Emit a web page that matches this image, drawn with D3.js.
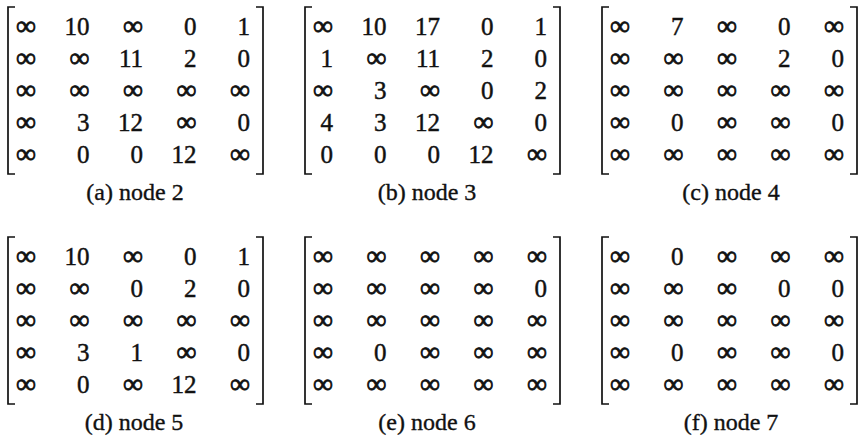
<!DOCTYPE html>
<html>
<head>
<meta charset="utf-8">
<script src="https://cdn.jsdelivr.net/npm/d3@7"></script>
<style>
  html, body { margin: 0; padding: 0; background: #fff; }
  svg { display: block; }
</style>
</head>
<body>
<svg id="chart" width="862" height="441"></svg>
<script>
const INF = Infinity;
const rowLabels = ["r1", "r2", "r3", "r4", "r5"];
const colLabels = ["c1", "c2", "c3", "c4", "c5"];
const panelLabels = ["(a) node 2", "(b) node 3", "(c) node 4", "(d) node 5", "(e) node 6", "(f) node 7"];

const node2 = [
  [INF, 10, INF, 0, 1],
  [INF, INF, 11, 2, 0],
  [INF, INF, INF, INF, INF],
  [INF, 3, 12, INF, 0],
  [INF, 0, 0, 12, INF]
];
const node3 = [
  [INF, 10, 17, 0, 1],
  [1, INF, 11, 2, 0],
  [INF, 3, INF, 0, 2],
  [4, 3, 12, INF, 0],
  [0, 0, 0, 12, INF]
];
const node4 = [
  [INF, 7, INF, 0, INF],
  [INF, INF, INF, 2, 0],
  [INF, INF, INF, INF, INF],
  [INF, 0, INF, INF, 0],
  [INF, INF, INF, INF, INF]
];
const node5 = [
  [INF, 10, INF, 0, 1],
  [INF, INF, 0, 2, 0],
  [INF, INF, INF, INF, INF],
  [INF, 3, 1, INF, 0],
  [INF, 0, INF, 12, INF]
];
const node6 = [
  [INF, INF, INF, INF, INF],
  [INF, INF, INF, INF, 0],
  [INF, INF, INF, INF, INF],
  [INF, 0, INF, INF, INF],
  [INF, INF, INF, INF, INF]
];
const node7 = [
  [INF, 0, INF, INF, INF],
  [INF, INF, INF, 0, 0],
  [INF, INF, INF, INF, INF],
  [INF, 0, INF, INF, 0],
  [INF, INF, INF, INF, INF]
];
const matrices = [node2, node3, node4, node5, node6, node7];

const svg = d3.select("#chart");
const font = "'Liberation Serif', 'Times New Roman', serif";

// panel grid
const panelX = d3.scalePoint().domain([0, 1, 2]).range([8, 602]);
const panelY = d3.scalePoint().domain([0, 1]).range([7, 237]);
const colX = d3.scalePoint().domain(colLabels).range([28, 242]);
const rowY = d3.scalePoint().domain(rowLabels).range([28, 156]);
const bracketW = 255, bracketH = 167, serif = 7;
const captionX = [127, 122, 129, 126, 122, 129];

matrices.forEach((m, k) => {
  const px = k % 3, py = Math.floor(k / 3);
  const g = svg.append("g")
    .attr("transform", `translate(${panelX(px)},${panelY(py)})`);

  // brackets
  const br = d3.path();
  br.moveTo(serif, 0); br.lineTo(0, 0); br.lineTo(0, bracketH); br.lineTo(serif, bracketH);
  br.moveTo(bracketW - serif, 0); br.lineTo(bracketW, 0); br.lineTo(bracketW, bracketH); br.lineTo(bracketW - serif, bracketH);
  g.append("path").attr("d", br.toString())
    .attr("fill", "none").attr("stroke", "#111").attr("stroke-width", 1.7);

  m.forEach((row, i) => {
    row.forEach((v, j) => {
      const isInf = v === INF;
      g.append("text")
        .attr("x", colX(colLabels[j]))
        .attr("y", rowY(rowLabels[i]))
        .attr("text-anchor", "end")
        .attr("font-family", font)
        .attr("font-size", isInf ? 28 : 25)
        .attr("fill", "#111")
        .attr("stroke", "#111")
        .attr("stroke-width", isInf ? 0.8 : 0.45)
        .text(isInf ? "\u221E" : String(v));
    });
  });

  g.append("text")
    .attr("x", captionX[k])
    .attr("y", 193)
    .attr("text-anchor", "middle")
    .attr("font-family", font)
    .attr("font-size", 24)
    .attr("fill", "#111")
    .attr("stroke", "#111")
    .attr("stroke-width", 0.35)
    .text(panelLabels[k]);
});
</script>
</body>
</html>
